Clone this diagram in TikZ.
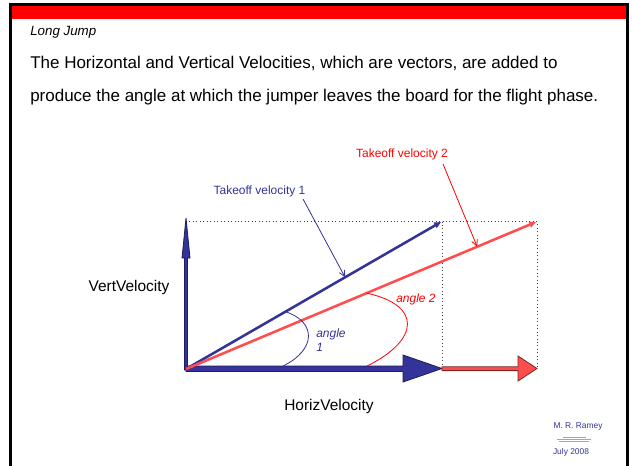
\documentclass[tikz,border=0pt]{standalone}
\usepackage{fontspec}
\setmainfont{Liberation Sans}
\usetikzlibrary{arrows.meta,calc}
\definecolor{navy}{RGB}{51,51,153}
\definecolor{navyedge}{RGB}{30,30,90}
\definecolor{lred}{RGB}{255,77,77}
\definecolor{redge}{RGB}{120,40,40}
\tikzset{
  lbl/.style={inner sep=0pt, font=\fontsize{11.6}{13}\selectfont},
  smalllbl/.style={inner sep=0pt, font=\fontsize{9}{10.5}\selectfont},
  blockblue/.style={fill=navy, draw=navyedge, line width=0.6pt, line join=miter},
  blockred/.style={fill=lred, draw=redge, line width=0.6pt, line join=miter},
  guide/.style={draw=black!75, line width=0.6pt, dotted},
  resultant/.style={line width=1.9pt, -{Triangle[length=5pt,width=4.5pt]}},
  pointer/.style={line width=0.6pt, -{Straight Barb[length=4.5pt,width=4.5pt]}},
}
\begin{document}
\begin{tikzpicture}[x=0.75pt,y=-0.75pt]
\useasboundingbox (0,0) rectangle (632,465);
\fill[white] (0,0) rectangle (632,465);
% slide frame
\fill[red] (12,6) rectangle (626,19);
\draw[line width=2.25pt] (10.5,470) -- (10.5,4.5) -- (627.5,4.5) -- (627.5,470);

% texts
\node[anchor=west, inner sep=0pt, font=\fontsize{10}{12}\selectfont\itshape] (title) at (30,32) {Long Jump};
\node[anchor=west, inner sep=0pt, font=\fontsize{12.75}{14}\selectfont] (line1) at (30,63.5) {The Horizontal and Vertical Velocities, which are vectors, are added to};
\node[anchor=west, inner sep=0pt, font=\fontsize{12.75}{14}\selectfont] (line2) at (30,97) {produce the angle at which the jumper leaves the board for the flight phase.};

% key points
\coordinate (O) at (186,369);
\coordinate (B) at (441,222);
\coordinate (R) at (536,222);
\coordinate (TL) at (186,221.5);
\coordinate (TM) at (442,221.5);
\coordinate (TR) at (537,221.5);
\coordinate (BM) at (442,369);
\coordinate (BR) at (537,369);

% dotted guides
\draw[guide] (TL) -- (TR) -- (BR);
\draw[guide] (TM) -- (BM);

% block arrows
\draw[blockblue] (184.5,370) -- (184.5,258) -- (182,258) -- (186,218) -- (190,258) -- (187.5,258) -- (187.5,370) -- cycle;
\draw[blockblue] (186,366) -- (403,366) -- (403,355) -- (442,368.5) -- (403,382) -- (403,371.5) -- (186,371.5) -- cycle;
\draw[blockred] (442,366.8) -- (518,366.8) -- (518,356) -- (537,368.5) -- (518,381) -- (518,370.6) -- (442,370.6) -- cycle;

% resultants
\draw[resultant, navy] (O) -- (B);
\draw[resultant, lred] (O) -- (R);

% angle markers
\coordinate (a1s) at ($(O)!0.39!(B)$);
\coordinate (a1e) at (283,366);
\draw[navy, line width=0.6pt] (a1s) .. controls (317,322) and (316,350) .. (a1e);
\coordinate (a2s) at ($(O)!0.516!(R)$);
\coordinate (a2e) at (367,366);
\draw[red, line width=0.6pt] (a2s) .. controls (422,305) and (420,340) .. (a2e);
\node[smalllbl, text=navy, anchor=north west, align=left, font=\fontsize{9}{10.5}\selectfont\itshape] (ang1) at (316,329) {angle\\1};
\node[smalllbl, text=red, font=\fontsize{9}{10.5}\selectfont\itshape] (ang2) at (416,299) {angle 2};

% takeoff labels and pointers
\node[smalllbl, text=navy] (tv1) at (259.5,191) {Takeoff velocity 1};
\node[smalllbl, text=red] (tv2) at (402,154) {Takeoff velocity 2};
\coordinate (p1s) at (303,199);
\coordinate (p1e) at ($(O)!0.624!(B)$);
\coordinate (p2s) at (443,164);
\coordinate (p2e) at ($(O)!0.832!(R)$);
\draw[pointer, navy] (p1s) -- (p1e);
\draw[pointer, red] (p2s) -- (p2e);

% axis labels
\node[lbl] (vv) at (129,287) {VertVelocity};
\node[lbl] (hv) at (329,406) {HorizVelocity};

% footer
\node[inner sep=0pt, text=navy, font=\fontsize{6.3}{7}\selectfont] (auth) at (578,426) {M. R. Ramey};
\draw[gray!70, line width=0.3pt] (563,437) -- (586,437);
\draw[gray!70, line width=0.3pt] (557,439) -- (591,439);
\draw[gray!70, line width=0.3pt] (559,441) -- (589,441);
\node[inner sep=0pt, text=navy, font=\fontsize{6.3}{7}\selectfont] (date) at (571,452) {July 2008};
\end{tikzpicture}
\end{document}
